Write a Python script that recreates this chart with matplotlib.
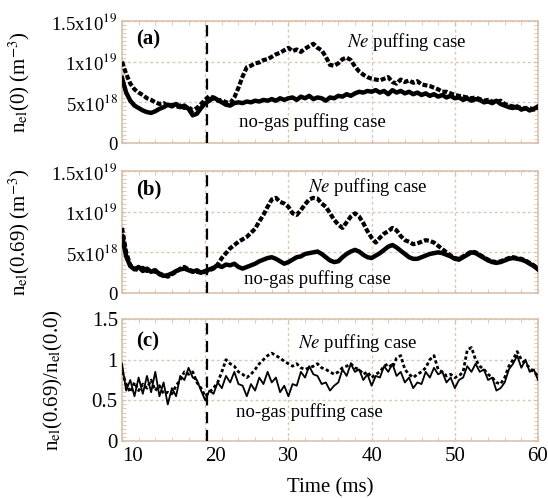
import numpy as np
import matplotlib
matplotlib.use("Agg")
import matplotlib.pyplot as plt
from matplotlib.ticker import MultipleLocator, FixedLocator

plt.rcParams['font.family'] = ['Liberation Serif', 'DejaVu Serif']
plt.rcParams['mathtext.fontset'] = 'stix'

# time axis (ms), 0.5 ms sampling
time_ms = [10.0 + 0.5 * i for i in range(101)]

# panel (a): n_el(0) in 1e18 m^-3
a_ne = [10.0, 8.5, 7.3, 6.6, 6.2, 5.9, 5.5, 5.3, 5.0, 4.8, 4.9, 4.6, 4.7, 4.4, 4.6, 4.3, 4.4, 4.0, 4.3, 4.8,
        5.3, 5.8, 5.5, 5.2, 5.3, 5.0, 4.9, 5.6, 6.8, 8.2, 9.3, 9.5, 9.8, 9.9, 10.2, 10.3, 10.6, 10.9, 11.1, 11.4,
        11.7, 11.3, 11.5, 11.2, 11.6, 11.9, 12.2, 11.7, 11.4, 10.6, 9.6, 9.5, 9.8, 10.3, 10.5, 10.2, 9.4, 8.8, 8.4, 8.1,
        7.9, 7.8, 7.7, 7.9, 8.1, 7.5, 7.3, 7.8, 7.5, 7.7, 7.4, 7.6, 7.2, 7.1, 7.0, 6.8, 6.6, 6.3, 6.3, 6.1,
        5.9, 5.8, 5.7, 5.6, 5.5, 5.6, 5.4, 5.2, 5.3, 5.1, 5.0, 5.2, 4.8, 4.6, 4.5, 4.3, 4.4, 4.2, 4.3, 4.1, 4.4]
a_nogas = [8.0, 6.2, 5.2, 4.6, 4.3, 4.0, 3.8, 3.7, 3.9, 4.2, 4.4, 4.7, 4.5, 4.8, 4.4, 4.6, 4.2, 3.4, 3.6, 4.3,
           4.9, 5.2, 5.6, 5.3, 5.0, 4.7, 4.6, 4.9, 5.0, 4.9, 5.1, 5.0, 5.2, 5.1, 5.3, 5.2, 5.4, 5.2, 5.5, 5.3,
           5.5, 5.6, 5.3, 5.7, 5.5, 5.8, 5.4, 5.6, 5.5, 5.2, 5.6, 5.5, 5.8, 5.7, 6.0, 5.8, 6.1, 6.3, 6.2, 6.4,
           6.3, 6.5, 6.2, 6.4, 6.0, 6.5, 6.2, 6.4, 6.1, 6.3, 6.0, 6.2, 5.9, 6.1, 5.8, 6.0, 5.7, 5.9, 5.6, 5.8,
           5.5, 5.6, 5.3, 5.5, 5.2, 5.4, 5.3, 5.0, 5.1, 4.9, 5.2, 4.8, 4.6, 4.4, 4.3, 4.5, 4.1, 4.3, 4.0, 4.2, 4.5]

# panel (b): n_el(0.69) in 1e18 m^-3
b_ne = [8.0, 5.0, 3.4, 3.0, 2.8, 3.1, 2.7, 2.9, 2.6, 2.4, 2.2, 2.0, 2.3, 2.6, 3.0, 3.2, 2.9, 2.7, 2.6, 2.5,
        2.6, 2.8, 3.0, 3.5, 4.3, 4.9, 5.5, 5.9, 6.3, 6.6, 6.9, 7.4, 7.9, 8.8, 9.6, 10.6, 11.5, 11.7, 11.2, 11.0,
        10.6, 9.8, 9.6, 10.2, 10.9, 11.5, 11.7, 11.6, 11.0, 10.6, 9.8, 9.0, 8.4, 8.0, 8.7, 9.4, 9.8, 9.4, 8.6, 7.6,
        6.8, 6.2, 6.8, 7.3, 7.6, 8.0, 7.7, 7.0, 6.5, 6.3, 6.0, 6.1, 6.3, 6.5, 6.4, 6.2, 5.8, 5.4, 5.0, 4.6,
        4.3, 4.2, 4.5, 4.8, 5.1, 5.0, 4.7, 4.4, 4.1, 3.9, 3.8, 3.9, 4.1, 4.3, 4.4, 4.3, 4.2, 4.0, 3.7, 3.4, 3.0]
b_nogas = [7.0, 4.5, 3.3, 2.9, 3.2, 2.7, 3.0, 2.6, 2.8, 2.3, 2.1, 2.2, 2.4, 2.7, 2.9, 3.0, 2.8, 2.6, 2.8, 2.5,
           2.7, 2.9, 3.1, 3.4, 3.2, 3.5, 3.4, 3.6, 3.2, 3.0, 3.2, 3.4, 3.6, 3.9, 4.1, 4.3, 4.4, 4.2, 3.9, 3.6,
           3.8, 4.1, 4.4, 4.5, 4.8, 4.9, 5.0, 5.1, 4.8, 4.4, 4.0, 3.8, 3.9, 4.4, 4.8, 5.1, 5.3, 5.1, 4.7, 4.4,
           4.3, 4.6, 4.9, 5.3, 5.7, 5.9, 5.6, 5.2, 4.8, 4.4, 4.2, 4.2, 4.4, 4.6, 4.8, 4.9, 5.0, 4.9, 4.7, 4.5,
           4.2, 4.1, 4.4, 4.7, 5.0, 4.9, 4.6, 4.3, 4.0, 3.8, 3.7, 3.8, 4.0, 4.2, 4.3, 4.2, 4.1, 3.9, 3.6, 3.3, 2.9]

# panel (c): ratio n_el(0.69)/n_el(0.0)
c_ne = [0.85, 0.70, 0.60, 0.72, 0.62, 0.70, 0.65, 0.75, 0.62, 0.68, 0.58, 0.60, 0.58, 0.68, 0.75, 0.85, 0.82, 0.85, 0.72, 0.65,
        0.55, 0.60, 0.65, 0.72, 0.85, 1.00, 0.95, 0.92, 0.85, 0.82, 0.78, 0.82, 0.88, 0.95, 1.00, 1.05, 1.08, 1.05, 1.02, 0.98,
        0.95, 0.92, 0.95, 0.90, 0.88, 0.90, 0.92, 0.95, 0.90, 0.88, 0.85, 0.82, 0.85, 0.90, 0.92, 0.95, 0.90, 0.88, 0.82, 0.85,
        0.78, 0.82, 0.85, 0.92, 0.95, 0.90, 1.02, 1.05, 0.88, 0.82, 0.78, 0.82, 0.85, 0.90, 1.00, 1.05, 0.88, 0.85, 0.80, 0.82,
        0.78, 0.80, 0.85, 1.12, 1.15, 1.00, 0.92, 0.88, 0.82, 0.78, 0.72, 0.70, 0.78, 0.92, 1.00, 1.10, 1.00, 0.95, 0.90, 0.85, 0.80]
c_nogas = [0.95, 0.62, 0.75, 0.55, 0.78, 0.58, 0.80, 0.60, 0.85, 0.55, 0.72, 0.45, 0.65, 0.55, 0.80, 0.75, 0.90, 0.78, 0.75, 0.62,
           0.50, 0.62, 0.58, 0.72, 0.65, 0.80, 0.72, 0.85, 0.70, 0.68, 0.55, 0.70, 0.62, 0.78, 0.70, 0.85, 0.72, 0.78, 0.60, 0.68,
           0.55, 0.70, 0.68, 0.85, 0.78, 0.92, 0.82, 0.80, 0.70, 0.72, 0.62, 0.68, 0.72, 0.88, 0.80, 0.95, 0.85, 0.88, 0.75, 0.82,
           0.68, 0.80, 0.78, 0.92, 0.85, 0.95, 0.80, 0.85, 0.72, 0.78, 0.65, 0.72, 0.70, 0.85, 0.78, 0.90, 0.82, 0.85, 0.72, 0.78,
           0.65, 0.75, 0.78, 0.92, 0.85, 0.95, 0.85, 0.88, 0.75, 0.78, 0.62, 0.65, 0.72, 0.88, 0.95, 1.05, 0.90, 1.00, 0.85, 0.88, 0.75]

dens_ticks = [0, 5, 10, 15]
dens_ticklabels = ['0', '5x10$^{18}$', '1x10$^{19}$', '1.5x10$^{19}$']
ratio_ticks = [0, 0.5, 1, 1.5]
ratio_ticklabels = ['0', '0.5', '1', '1.5']
x_ticks = [10, 20, 30, 40, 50, 60]
gas_time = 20.2

frame = '#d9c2ab'
gridc = '#dfc6b0'

fig = plt.figure(figsize=(5.48, 4.98), dpi=100)
W = 416 / 548
H = 122 / 498
L = 122 / 548
axa = fig.add_axes([L, 1 - 143 / 498, W, H])
axb = fig.add_axes([L, 1 - 293 / 498, W, H])
axc = fig.add_axes([L, 1 - 441 / 498, W, H])


def style(ax, yticks, ylabels, ymax, yminor, ysize):
    ax.set_xlim(10, 60)
    ax.set_ylim(0, ymax)
    ax.xaxis.set_major_locator(FixedLocator(x_ticks))
    ax.xaxis.set_minor_locator(MultipleLocator(2))
    ax.yaxis.set_major_locator(FixedLocator(yticks))
    ax.yaxis.set_minor_locator(MultipleLocator(yminor))
    ax.set_yticklabels(ylabels)
    ax.grid(True, which='major', color=gridc, linestyle=(0, (2, 2)), linewidth=1.0)
    ax.set_axisbelow(True)
    for s in ax.spines.values():
        s.set_color(frame)
        s.set_linewidth(1.2)
    ax.tick_params(which='both', direction='in', top=True, right=True, color=frame)
    ax.tick_params(axis='y', pad=3, labelsize=ysize)
    ax.tick_params(axis='x', pad=4, labelsize=15)
    ax.tick_params(which='major', length=3)
    ax.tick_params(which='minor', length=3)


style(axa, dens_ticks, dens_ticklabels, 15, 0.5, 13.5)
style(axb, dens_ticks, dens_ticklabels, 15, 0.5, 13.5)
style(axc, ratio_ticks, ratio_ticklabels, 1.5, 0.05, 15)
axa.set_xticklabels([])
axb.set_xticklabels([])
labs = axc.set_xticklabels([str(v) for v in x_ticks])
# the first two time labels start at their ticks in the reference
for lab in labs[:2]:
    lab.set_horizontalalignment('left')

for ax, ne, ng in [(axa, a_ne, a_nogas), (axb, b_ne, b_nogas)]:
    ax.plot(time_ms, ng, color='black', lw=3.2, zorder=3)
    ax.plot(time_ms, ne, color='black', lw=3.0, linestyle=(0, (1.2, 0.5)), zorder=3)
    ax.axvline(gas_time, color='black', lw=1.6, linestyle=(0, (5, 3)), zorder=4)

axc.plot(time_ms, c_nogas, color='black', lw=1.3, zorder=3)
axc.plot(time_ms, c_ne, color='black', lw=2.0, linestyle=(0, (1.2, 0.9)), zorder=3)
axc.axvline(gas_time, color='black', lw=1.6, linestyle=(0, (5, 3)), zorder=4)

axa.set_ylabel('n$_{\\rm el}$(0) (m$^{-3}$)', fontsize=15)
axb.set_ylabel('n$_{\\rm el}$(0.69) (m$^{-3}$)', fontsize=15)
axc.set_ylabel('n$_{\\rm el}$(0.69)/n$_{\\rm el}$(0.0)', fontsize=15)
axa.yaxis.set_label_coords(-0.216, 0.5)
axb.yaxis.set_label_coords(-0.216, 0.5)
axc.yaxis.set_label_coords(-0.137, 0.5)
axc.set_xlabel('Time (ms)', fontsize=15, labelpad=9)

axa.text(11.7, 12.7, '(a)', fontsize=15, fontweight='bold', va='center')
axb.text(11.7, 12.7, '(b)', fontsize=15, fontweight='bold', va='center')
axc.text(11.7, 1.22, '(c)', fontsize=15, fontweight='bold', va='center')

axa.text(37.0, 12.4, '$\\it{Ne}$ puffing case', fontsize=13.5, va='center')
axa.text(24.1, 2.6, 'no-gas puffing case', fontsize=13.5, va='center')
axb.text(32.4, 13.0, '$\\it{Ne}$ puffing case', fontsize=13.5, va='center')
axb.text(24.7, 1.7, 'no-gas puffing case', fontsize=13.5, va='center')
axc.text(31.1, 1.2, '$\\it{Ne}$ puffing case', fontsize=13.5, va='center')
axc.text(23.7, 0.36, 'no-gas puffing case', fontsize=13.5, va='center')

fig.savefig('out.png', dpi=100)
